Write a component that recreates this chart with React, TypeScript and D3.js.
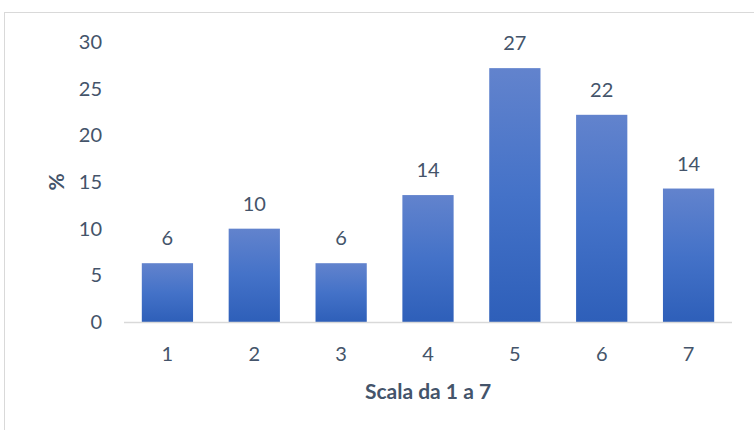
import React from "react";
import * as d3 from "d3";

const categories = ["1", "2", "3", "4", "5", "6", "7"];
const values = [6.3, 10.0, 6.3, 13.6, 27.2, 22.2, 14.3];
const labels = ["6", "10", "6", "14", "27", "22", "14"];
const yTicks = [0, 5, 10, 15, 20, 25, 30];

const W = 754;
const H = 430;
const M = { left: 124, right: 22, top: 42, bottom: 108 };
const FONT = "Lato, 'Open Sans', sans-serif";
const TEXT = "#44546a";
const FS = 20;

export default function App() {
  const x = d3
    .scaleBand<string>()
    .domain(categories)
    .range([M.left, W - M.right])
    .paddingInner(0.41)
    .paddingOuter(0.205);
  const y = d3.scaleLinear().domain([0, 30]).range([H - M.bottom, M.top]);

  return (
    <svg
      width={W}
      height={H}
      style={{ position: "absolute", left: 0, top: 0, background: "#fff" }}
    >
      <defs>
        <linearGradient id="barGrad" x1="0" y1="0" x2="0" y2="1">
          <stop offset="0%" stopColor="#6283cd" />
          <stop offset="50%" stopColor="#4472c8" />
          <stop offset="100%" stopColor="#2e5fb9" />
        </linearGradient>
      </defs>
      <rect x={4.5} y={12.5} width={W + 10} height={H + 10} fill="none" stroke="#d9d9d9" strokeWidth={1} />
      {yTicks.map((t) => (
        <text
          key={t}
          x={102}
          y={y(t)}
          dy="0.35em"
          textAnchor="end"
          fontFamily={FONT}
          fontSize={FS}
          fill={TEXT}
        >
          {t}
        </text>
      ))}
      {categories.map((c, i) => (
        <g key={c}>
          <rect
            x={x(c)}
            y={y(values[i])}
            width={x.bandwidth()}
            height={y(0) - y(values[i])}
            fill="url(#barGrad)"
          />
          <text
            x={(x(c) as number) + x.bandwidth() / 2}
            y={y(values[i]) - 18}
            textAnchor="middle"
            fontFamily={FONT}
            fontSize={FS}
            fill={TEXT}
          >
            {labels[i]}
          </text>
          <text
            x={(x(c) as number) + x.bandwidth() / 2}
            y={y(0) + 32}
            dy="0.35em"
            textAnchor="middle"
            fontFamily={FONT}
            fontSize={FS}
            fill={TEXT}
          >
            {c}
          </text>
        </g>
      ))}
      <line x1={M.left} x2={W - M.right} y1={y(0) + 0.5} y2={y(0) + 0.5} stroke="#d9d9d9" strokeWidth={1.5} />
      <text
        x={(M.left + W - M.right) / 2}
        y={392}
        dy="0.35em"
        textAnchor="middle"
        fontFamily={FONT}
        fontWeight="bold"
        fontSize={21}
        fill={TEXT}
      >
        Scala da 1 a 7
      </text>
      <text
        transform={`translate(57,${y(15)}) rotate(-90)`}
        dy="0.35em"
        textAnchor="middle"
        fontFamily={FONT}
        fontWeight="bold"
        fontSize={21}
        fill={TEXT}
      >
        %
      </text>
    </svg>
  );
}
